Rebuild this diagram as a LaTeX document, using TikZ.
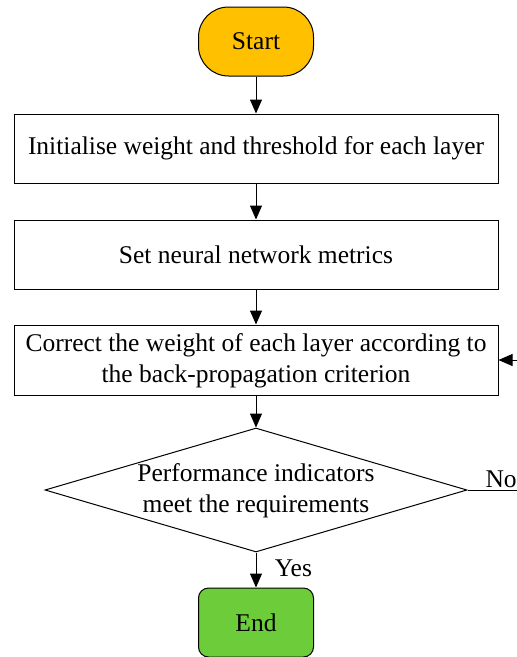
\documentclass[tikz,border=0pt]{standalone}
\usepackage{fontspec}
\setmainfont{Liberation Serif}
\usetikzlibrary{shapes.geometric,positioning,arrows.meta}
\definecolor{startorange}{RGB}{255,192,0}
\definecolor{endgreen}{RGB}{108,204,58}

\begin{document}
\begin{tikzpicture}[
  every node/.style={font=\fontsize{25.5}{31}\selectfont},
  process/.style={rectangle, draw, line width=1pt, minimum width=484pt, minimum height=69pt, align=center, inner sep=2pt},
  terminal/.style={rectangle, draw, line width=1pt, minimum width=115pt, minimum height=69pt, fill=#1},
  decision/.style={diamond, draw, line width=1pt, minimum width=422pt, minimum height=124pt, aspect=3.4, inner sep=0pt, align=center},
  flow/.style={line width=1pt, -{Triangle[length=14pt,width=12pt]}},
  node distance=36pt]
  \useasboundingbox (0,0) rectangle (517pt,-657pt);
  \clip (0,0) rectangle (517pt,-657pt);

  \node [terminal=startorange, rounded corners=30pt] (start) at (256pt,-41.5pt) {Start};
  \node [process, below=37pt of start] (init) {Initialise weight and threshold for each layer};
  \node [process, below=of init] (metrics) {Set neural network metrics};
  \node [process, below=35pt of metrics, minimum height=70pt, text depth=4pt] (correct)
    {Correct the weight of each layer according to\\the back-propagation criterion};
  \node [decision, below=32pt of correct, text depth=4pt] (check)
    {Performance indicators\\meet the requirements};
  \node [terminal=endgreen, rounded corners=10pt, below=35pt of check] (stop) {End};

  % flechas
  \draw[flow] (start) -- (init);
  \draw[flow] (init) -- (metrics);
  \draw[flow] (metrics) -- (correct);
  \draw[flow] (correct) -- (check);
  \draw[flow] (check) -- node[right=15pt, pos=0.45] (yes) {Yes} (stop);
  \draw[flow] (check.east) -- node[above=-2pt, pos=0.48] (no) {No} ++(70pt,0) |- (correct.east);
\end{tikzpicture}
\end{document}
